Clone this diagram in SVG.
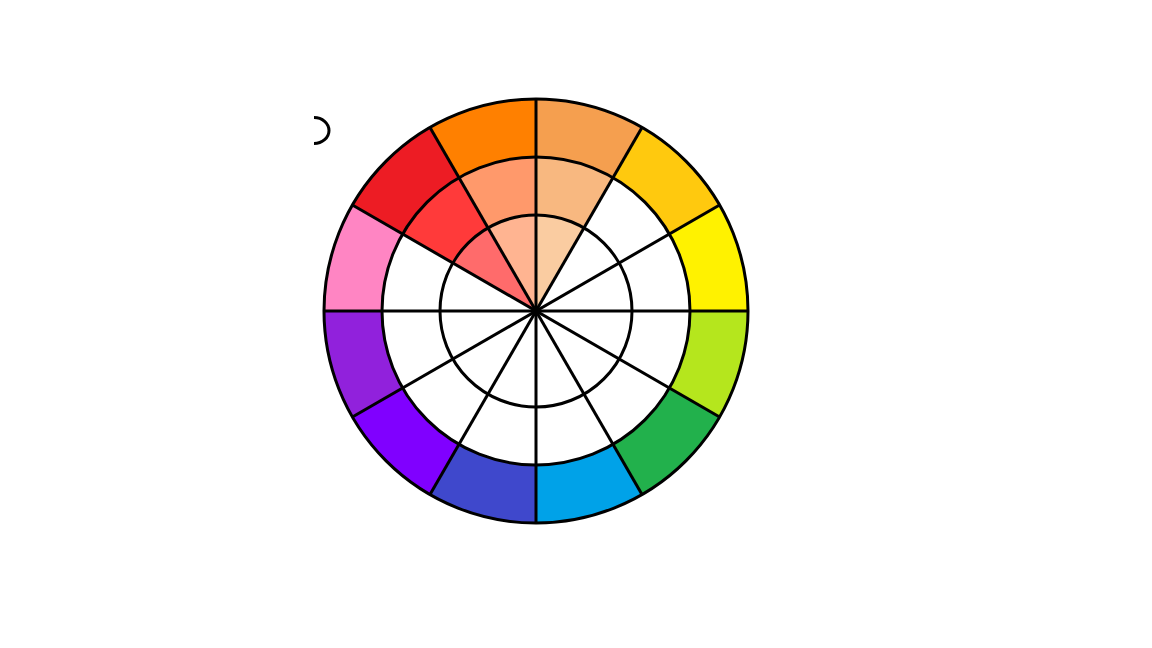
<svg xmlns="http://www.w3.org/2000/svg" width="1152" height="648" viewBox="0 0 1152 648">
<style>
.ln{fill:none;stroke:#000;stroke-width:3}
</style>
<rect width="1152" height="648" fill="#fff"/>
<g id="outer-ring">
<path fill="#F59F4F" d="M536,99 A212,212 0 0 1 642,127.403 L613,177.632 A154,154 0 0 0 536,157 Z"/>
<path fill="#FFC90E" d="M642,127.403 A212,212 0 0 1 719.597,205 L669.368,234 A154,154 0 0 0 613,177.632 Z"/>
<path fill="#FFF200" d="M719.597,205 A212,212 0 0 1 748,311 L690,311 A154,154 0 0 0 669.368,234 Z"/>
<path fill="#B5E61D" d="M748,311 A212,212 0 0 1 719.597,417 L669.368,388 A154,154 0 0 0 690,311 Z"/>
<path fill="#22B14C" d="M719.597,417 A212,212 0 0 1 642,494.597 L613,444.368 A154,154 0 0 0 669.368,388 Z"/>
<path fill="#00A2E8" d="M642,494.597 A212,212 0 0 1 536,523 L536,465 A154,154 0 0 0 613,444.368 Z"/>
<path fill="#3F48CC" d="M536,523 A212,212 0 0 1 430,494.597 L459,444.368 A154,154 0 0 0 536,465 Z"/>
<path fill="#8000FF" d="M430,494.597 A212,212 0 0 1 352.403,417 L402.632,388 A154,154 0 0 0 459,444.368 Z"/>
<path fill="#9121DC" d="M352.403,417 A212,212 0 0 1 324,311 L382,311 A154,154 0 0 0 402.632,388 Z"/>
<path fill="#FF85C3" d="M324,311 A212,212 0 0 1 352.403,205 L402.632,234 A154,154 0 0 0 382,311 Z"/>
<path fill="#ED1C24" d="M352.403,205 A212,212 0 0 1 430,127.403 L459,177.632 A154,154 0 0 0 402.632,234 Z"/>
<path fill="#FF8000" d="M430,127.403 A212,212 0 0 1 536,99 L536,157 A154,154 0 0 0 459,177.632 Z"/>
</g>
<g id="middle-ring">
<path fill="#F8B880" d="M536,157 A154,154 0 0 1 613,177.632 L584,227.862 A96,96 0 0 0 536,215 Z"/>
<path fill="#FF996B" d="M459,177.632 A154,154 0 0 1 536,157 L536,215 A96,96 0 0 0 488,227.862 Z"/>
<path fill="#FF3A3A" d="M402.632,234 A154,154 0 0 1 459,177.632 L488,227.862 A96,96 0 0 0 452.862,263 Z"/>
</g>
<g id="inner-ring">
<path fill="#FACCA1" d="M536,311 L536,215 A96,96 0 0 1 584,227.862 Z"/>
<path fill="#FFB491" d="M536,311 L488,227.862 A96,96 0 0 1 536,215 Z"/>
<path fill="#FF6B6B" d="M536,311 L452.862,263 A96,96 0 0 1 488,227.862 Z"/>
</g>
<g id="connectors">
<circle class="ln" cx="536" cy="311" r="212"/>
<circle class="ln" cx="536" cy="311" r="154"/>
<circle class="ln" cx="536" cy="311" r="96"/>
<line class="ln" x1="536" y1="99" x2="536" y2="523"/>
<line class="ln" x1="642" y1="127.403" x2="430" y2="494.597"/>
<line class="ln" x1="719.597" y1="205" x2="352.403" y2="417"/>
<line class="ln" x1="748" y1="311" x2="324" y2="311"/>
<line class="ln" x1="719.597" y1="417" x2="352.403" y2="205"/>
<line class="ln" x1="642" y1="494.597" x2="430" y2="127.403"/>
</g>
<g id="arc-mark">
<path class="ln" stroke-width="2.4" d="M314,117.5 A15,13 0 0 1 314,143.5"/>
</g>
</svg>
